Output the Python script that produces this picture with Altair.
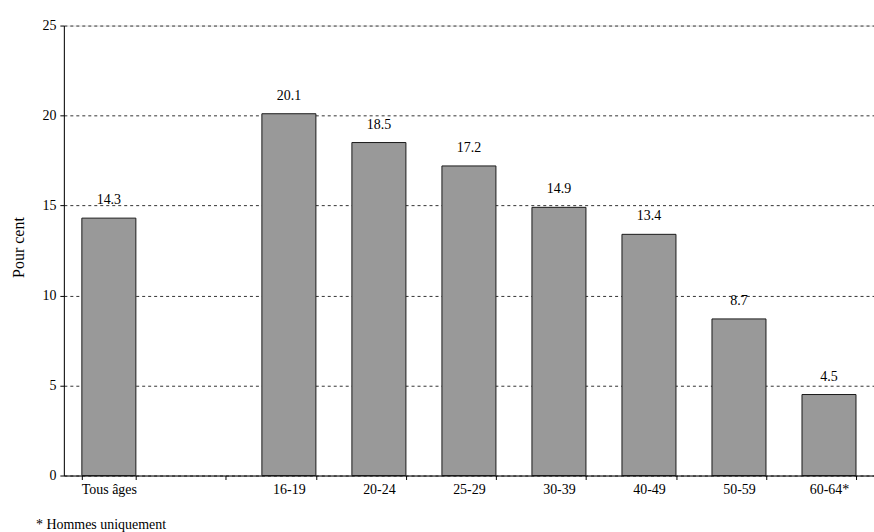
import altair as alt
import pandas as pd

# Unemployment rate by age group (percent)
categories = ["Tous âges", "", "16-19", "20-24", "25-29", "30-39", "40-49", "50-59", "60-64*"]
bar_labels = ["Tous âges", "16-19", "20-24", "25-29", "30-39", "40-49", "50-59", "60-64*"]
bar_values = [14.3, 20.1, 18.5, 17.2, 14.9, 13.4, 8.7, 4.5]
y_ticks = [0, 5, 10, 15, 20, 25]
footnote = "* Hommes uniquement"
y_title = "Pour cent"

# the empty slot after "Tous âges" gets a unique key so it stays a separate band
domain = [c if c else " " for c in categories]

df = pd.DataFrame({"groupe": bar_labels, "taux": bar_values})
df["texte"] = df["taux"].map(lambda v: f"{v:.1f}")

FONT = "Liberation Serif"

x_enc = alt.X(
    "groupe:N",
    scale=alt.Scale(domain=domain, paddingInner=0.4, paddingOuter=0.2),
    axis=alt.Axis(
        title=None,
        labelAngle=0,
        tickBand="extent",
        tickSize=4,
        tickColor="black",
        domainColor="black",
        labelFont=FONT,
        labelFontSize=14,
        labelColor="black",
        labelPadding=3,
        grid=False,
    ),
)
y_enc = alt.Y(
    "taux:Q",
    scale=alt.Scale(domain=[0, 25], nice=False),
    axis=alt.Axis(
        values=y_ticks,
        title=y_title,
        titleFont=FONT,
        titleFontSize=16,
        titleFontWeight="normal",
        titleColor="black",
        titleX=-45,
        titleY=222,
        titleAlign="center",
        titleBaseline="middle",
        titleAngle=270,
        labelFont=FONT,
        labelFontSize=14,
        labelColor="black",
        labelPadding=4,
        tickSize=4,
        tickColor="black",
        domainColor="black",
        grid=True,
        gridColor="#333333",
        gridDash=[3, 3],
        gridWidth=1,
    ),
)

bars = alt.Chart(df).mark_bar(
    color="#999999", stroke="#1a1a1a", strokeWidth=1
).encode(x=x_enc, y=y_enc)

labels = alt.Chart(df).mark_text(
    font=FONT, fontSize=14, color="black", baseline="alphabetic", dy=-14
).encode(x=alt.X("groupe:N", scale=alt.Scale(domain=domain)), y="taux:Q", text="texte:N")

note = alt.Chart(pd.DataFrame({"t": [footnote]})).mark_text(
    font=FONT, fontSize=14, color="black", align="left", baseline="alphabetic"
).encode(x=alt.value(-28), y=alt.value(505), text="t:N")

chart = (
    alt.layer(bars, labels, note)
    .properties(
        width=812,
        height=451,
        autosize=alt.AutoSizeParams(type="none"),
        padding={"left": 64, "top": 25, "right": 0, "bottom": 56},
    )
    .configure_view(stroke=None)
    .configure(background="white")
)

chart.save("out.html", embed_options={"renderer": "svg", "actions": False})
